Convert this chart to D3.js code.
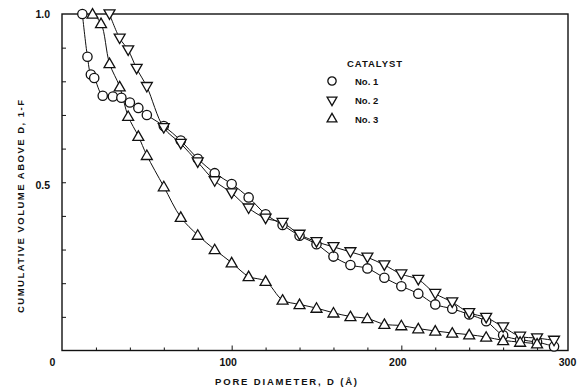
<!DOCTYPE html>
<html>
<head>
<meta charset="utf-8">
<script src="https://cdn.jsdelivr.net/npm/d3@7"></script>
<style>
  body { margin: 0; background: #fff; }
  text { font-family: "Liberation Sans", Arial, sans-serif; font-weight: bold; fill: #111; }
</style>
</head>
<body>
<script>
// pore diameter D (angstrom) and cumulative volume above D (1-F)
const cat1D = [12, 15, 17, 19, 24, 30, 35, 40, 45, 50, 60, 70, 80, 90, 100, 110, 120, 130, 140, 150, 160, 170, 180, 190, 200, 210, 220, 230, 240, 250, 260, 270, 280, 290];
const cat1V = [1.0, 0.873, 0.82, 0.81, 0.757, 0.755, 0.751, 0.737, 0.721, 0.70, 0.667, 0.624, 0.57, 0.527, 0.495, 0.455, 0.405, 0.373, 0.341, 0.316, 0.279, 0.254, 0.244, 0.216, 0.191, 0.169, 0.137, 0.124, 0.107, 0.087, 0.045, 0.032, 0.025, 0.012];

const cat2D = [28, 34, 39, 44, 50, 60, 70, 80, 90, 100, 110, 120, 130, 140, 150, 160, 170, 180, 190, 200, 210, 220, 230, 240, 250, 260, 270, 280, 290];
const cat2V = [1.0, 0.928, 0.893, 0.838, 0.784, 0.662, 0.615, 0.56, 0.504, 0.468, 0.423, 0.393, 0.38, 0.345, 0.323, 0.308, 0.293, 0.277, 0.254, 0.227, 0.211, 0.169, 0.144, 0.112, 0.098, 0.07, 0.042, 0.037, 0.03];

const cat3D = [18, 23, 28, 34, 39, 45, 50, 60, 70, 80, 90, 100, 110, 120, 130, 140, 150, 160, 170, 180, 190, 200, 210, 220, 230, 240, 250, 260, 270, 280];
const cat3V = [1.0, 0.972, 0.853, 0.784, 0.696, 0.637, 0.58, 0.487, 0.396, 0.343, 0.30, 0.261, 0.22, 0.206, 0.15, 0.137, 0.126, 0.112, 0.101, 0.095, 0.078, 0.074, 0.065, 0.058, 0.052, 0.047, 0.04, 0.03, 0.025, 0.02];

const seriesNames = ["No. 1", "No. 2", "No. 3"];
const xLabels = [0, 100, 200, 300];
const yLabels = [0.5, 1.0];

const width = 578, height = 388;

const svg = d3.select("body").append("svg")
  .attr("width", width)
  .attr("height", height);

svg.append("rect").attr("width", width).attr("height", height).attr("fill", "#fff");

const x = d3.scaleLinear().domain([0, 300]).range([62, 571]);
const y = d3.scaleLinear().domain([0, 1]).range([350.5, 14]);

// frame
svg.append("rect")
  .attr("x", x(0)).attr("y", y(1))
  .attr("width", 568 - x(0)).attr("height", y(0) - y(1))
  .attr("fill", "none").attr("stroke", "#111").attr("stroke-width", 1.4);

// inward ticks
svg.append("g")
  .attr("transform", `translate(${x(0)},0)`)
  .call(d3.axisRight(y).tickValues(d3.range(1, 10).map(d => d / 10)).tickSize(4).tickFormat(""))
  .call(g => g.select(".domain").remove())
  .selectAll("line").attr("stroke", "#111");

svg.append("g")
  .attr("transform", `translate(0,${y(0)})`)
  .call(d3.axisTop(x).tickValues(d3.range(20, 300, 20)).tickSize(3).tickFormat(""))
  .call(g => g.select(".domain").remove())
  .selectAll("line").attr("stroke", "#111")
  .attr("y2", d => d % 100 === 0 ? -5 : -3);

// tick labels
svg.append("g")
  .attr("transform", `translate(0,${y(0)})`)
  .call(d3.axisBottom(x).tickValues(xLabels).tickSize(0).tickPadding(8).tickFormat(d3.format("d")))
  .call(g => g.select(".domain").remove())
  .selectAll("text")
  .attr("font-size", 10.5)
  .attr("dx", d => d === 0 ? -10 : -4);

svg.append("g")
  .attr("transform", `translate(${x(0)},0)`)
  .call(d3.axisLeft(y).tickValues(yLabels).tickSize(0).tickPadding(12).tickFormat(d3.format(".1f")))
  .call(g => g.select(".domain").remove())
  .selectAll("text")
  .attr("font-size", 10.5)
  .attr("dy", d => d === 1 ? "0.32em" : "0.6em");

// axis titles
svg.append("text")
  .attr("x", 215).attr("y", 385)
  .attr("textLength", 142).attr("lengthAdjust", "spacing")
  .attr("font-size", 9.5)
  .text("PORE DIAMETER, D (Å)");

svg.append("text")
  .attr("transform", "translate(24,313) rotate(-90)")
  .attr("textLength", 213).attr("lengthAdjust", "spacing")
  .attr("font-size", 9.5)
  .text("CUMULATIVE VOLUME ABOVE D, 1-F");

// series
const series = [
  { name: seriesNames[0], d: cat1D, v: cat1V, sym: d3.symbolCircle, size: 68, rot: 0 },
  { name: seriesNames[1], d: cat2D, v: cat2V, sym: d3.symbolTriangle, size: 52, rot: 180 },
  { name: seriesNames[2], d: cat3D, v: cat3V, sym: d3.symbolTriangle, size: 52, rot: 0 }
];

const line = d3.line()
  .x(p => x(p[0]))
  .y(p => y(p[1]))
  .curve(d3.curveCatmullRom.alpha(0.5));

series.forEach(s => {
  const pts = s.d.map((d, i) => [d, s.v[i]]);
  svg.append("path")
    .attr("d", line(pts))
    .attr("fill", "none")
    .attr("stroke", "#111")
    .attr("stroke-width", 1);
});

series.forEach(s => {
  const pts = s.d.map((d, i) => [d, s.v[i]]);
  svg.append("g").selectAll("path")
    .data(pts)
    .enter()
    .append("path")
    .attr("d", d3.symbol().type(s.sym).size(s.size))
    .attr("transform", p => `translate(${x(p[0])},${y(p[1]) + (s.sym === d3.symbolTriangle ? (s.rot ? -1 : 1) : 0)}) rotate(${s.rot})`)
    .attr("fill", "#fff")
    .attr("stroke", "#111")
    .attr("stroke-width", 1.3);
});

// legend
const legend = svg.append("g");
legend.append("text")
  .attr("x", 347).attr("y", 66.5)
  .attr("font-size", 9.5)
  .attr("textLength", 55).attr("lengthAdjust", "spacing")
  .text("CATALYST");

series.forEach((s, i) => {
  const ly = 81 + i * 19;
  legend.append("path")
    .attr("d", d3.symbol().type(s.sym).size(s.size * 0.8))
    .attr("transform", `translate(332,${ly}) rotate(${s.rot})`)
    .attr("fill", "#fff")
    .attr("stroke", "#111")
    .attr("stroke-width", 1.3);
  legend.append("text")
    .attr("x", 355).attr("y", ly + 3.5)
    .attr("font-size", 9.5)
    .text(s.name);
});
</script>
</body>
</html>
